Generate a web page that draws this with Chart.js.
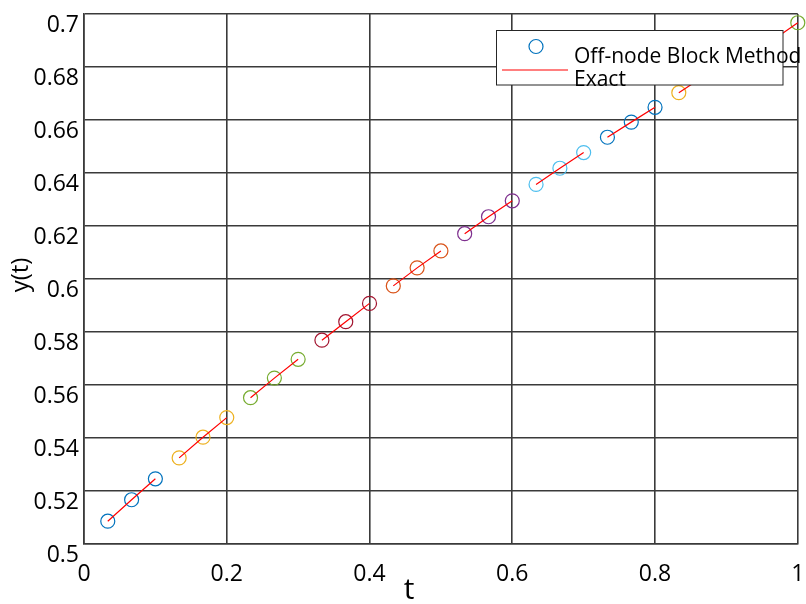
<!DOCTYPE html>
<html>
<head>
<meta charset="utf-8">
<script src="https://cdn.jsdelivr.net/npm/chart.js@4/dist/chart.umd.min.js"></script>
<style>
  html, body { margin: 0; padding: 0; background: #ffffff; }
  #wrap { width: 806px; height: 604px; }
</style>
</head>
<body>
<div id="wrap"><canvas id="c" width="806" height="604"></canvas></div>
<script>
// ---- data ----
const tValues = [0.0333, 0.0667, 0.1000, 0.1333, 0.1667, 0.2000, 0.2333, 0.2667, 0.3000, 0.3333,
                 0.3667, 0.4000, 0.4333, 0.4667, 0.5000, 0.5333, 0.5667, 0.6000, 0.6333, 0.6667,
                 0.7000, 0.7333, 0.7667, 0.8000, 0.8333, 0.8667, 0.9000, 0.9333, 0.9667, 1.0000];
const yApprox = [0.5086, 0.5167, 0.5246, 0.5325, 0.5403, 0.5477, 0.5552, 0.5626, 0.5697, 0.5769,
                 0.5839, 0.5908, 0.5974, 0.6042, 0.6106, 0.6171, 0.6235, 0.6295, 0.6357, 0.6418,
                 0.6477, 0.6535, 0.6592, 0.6648, 0.6703, 0.6762, 0.6812, 0.6862, 0.6905, 0.6967];
const yExact  = [0.5086, 0.5167, 0.5246, 0.5325, 0.5403, 0.5477, 0.5552, 0.5626, 0.5697, 0.5769,
                 0.5839, 0.5908, 0.5974, 0.6042, 0.6106, 0.6171, 0.6235, 0.6295, 0.6357, 0.6418,
                 0.6477, 0.6535, 0.6592, 0.6648, 0.6703, 0.6762, 0.6812, 0.6862, 0.6905, 0.6967];
const blockColors = ['#0072BD', '#EDB120', '#77AC30', '#A2142F', '#D95319',
                     '#7E2F8E', '#4DBEEE', '#0072BD', '#EDB120', '#77AC30'];
const blockSize = 3;
const xTicks = [0, 0.2, 0.4, 0.6, 0.8, 1];
const xTickLabels = ['0', '0.2', '0.4', '0.6', '0.8', '1'];
const yTicks = [0.5, 0.52, 0.54, 0.56, 0.58, 0.6, 0.62, 0.64, 0.66, 0.68, 0.7];
const yTickLabels = ['0.5', '0.52', '0.54', '0.56', '0.58', '0.6', '0.62', '0.64', '0.66', '0.68', '0.7'];
const seriesNames = ['Off-node Block Method', 'Exact'];
const xTitle = 't';
const yTitle = 'y(t)';

const FONT = '"Open Sans", "Noto Sans", sans-serif';
const GRID = '#3a3a3a';

// ---- datasets built from the arrays ----
const datasets = [];
for (let b = 0; b < blockColors.length; b++) {
  const idx = [];
  for (let i = b * blockSize; i < Math.min((b + 1) * blockSize, tValues.length); i++) idx.push(i);
  datasets.push({
    type: 'line',
    label: seriesNames[1],
    data: idx.map(i => ({ x: tValues[i], y: yExact[i] })),
    borderColor: '#FF0000',
    borderWidth: 1.2,
    pointRadius: 0,
    fill: false,
    tension: 0,
    clip: false,
    order: 0
  });
  datasets.push({
    type: 'scatter',
    label: seriesNames[0],
    data: idx.map(i => ({ x: tValues[i], y: yApprox[i] })),
    borderColor: blockColors[b],
    backgroundColor: 'rgba(0,0,0,0)',
    pointRadius: 7,
    pointBorderWidth: 1.2,
    showLine: false,
    clip: false,
    order: 1
  });
}

// ---- custom legend + axis titles (MATLAB style, inside the axes) ----
const overlay = {
  id: 'overlay',
  afterDatasetsDraw(chart) {
    const ctx = chart.ctx;
    ctx.save();
    const bx = 496.5, by = 30.5, bw = 286.5, bh = 54.5;
    ctx.fillStyle = '#ffffff';
    ctx.fillRect(bx, by, bw, bh);
    ctx.strokeStyle = '#262626';
    ctx.lineWidth = 1;
    ctx.strokeRect(bx, by, bw, bh);
    ctx.beginPath();
    ctx.arc(536, 46.5, 7, 0, Math.PI * 2);
    ctx.strokeStyle = blockColors[0];
    ctx.lineWidth = 1.2;
    ctx.stroke();
    ctx.beginPath();
    ctx.moveTo(502, 70);
    ctx.lineTo(568, 70);
    ctx.strokeStyle = '#FF0000';
    ctx.lineWidth = 1.2;
    ctx.stroke();
    ctx.fillStyle = '#000000';
    ctx.font = '21px ' + FONT;
    ctx.textAlign = 'left';
    ctx.textBaseline = 'alphabetic';
    ctx.fillText(seriesNames[0], 574, 63);
    ctx.fillText(seriesNames[1], 574, 86);
    ctx.restore();
  },
  afterDraw(chart) {
    const ctx = chart.ctx;
    ctx.save();
    ctx.fillStyle = '#000000';
    ctx.font = '30px ' + FONT;
    ctx.textAlign = 'center';
    ctx.textBaseline = 'alphabetic';
    ctx.fillText(xTitle, 409, 599);
    ctx.translate(21, 275);
    ctx.rotate(-Math.PI / 2);
    ctx.font = '24px ' + FONT;
    ctx.textAlign = 'center';
    ctx.textBaseline = 'middle';
    ctx.fillText(yTitle, 0, 0);
    ctx.restore();
  }
};

function noPad(s) {
  s.paddingLeft = 0; s.paddingRight = 0; s.paddingTop = 0; s.paddingBottom = 0;
}

new Chart(document.getElementById('c'), {
  data: { datasets },
  options: {
    responsive: false,
    animation: false,
    devicePixelRatio: 1,
    layout: { padding: { top: 14, right: 5.5, left: 0, bottom: 0 } },
    plugins: { legend: { display: false }, tooltip: { enabled: false }, title: { display: false } },
    scales: {
      x: {
        type: 'linear',
        min: 0, max: 1,
        afterBuildTicks: s => { s.ticks = xTicks.map(v => ({ value: v })); },
        afterFit: s => { s.height = 60; noPad(s); },
        ticks: {
          callback: (v, i) => xTickLabels[i],
          color: '#000000',
          font: { family: FONT, size: 23 },
          padding: 17,
          maxRotation: 0,
          autoSkip: false
        },
        grid: { color: GRID, lineWidth: 1.6, drawTicks: false },
        border: { display: true, color: GRID, width: 1.6 }
      },
      y: {
        type: 'linear',
        min: 0.5, max: 0.7,
        afterBuildTicks: s => { s.ticks = yTicks.map(v => ({ value: v })); },
        afterFit: s => { s.width = 84; noPad(s); },
        ticks: {
          callback: (v, i) => yTickLabels[i],
          color: '#000000',
          font: { family: FONT, size: 23 },
          padding: 5,
          labelOffset: 11,
          autoSkip: false
        },
        grid: { color: GRID, lineWidth: 1.6, drawTicks: false },
        border: { display: true, color: GRID, width: 1.6 }
      }
    }
  },
  plugins: [overlay]
});
</script>
</body>
</html>
